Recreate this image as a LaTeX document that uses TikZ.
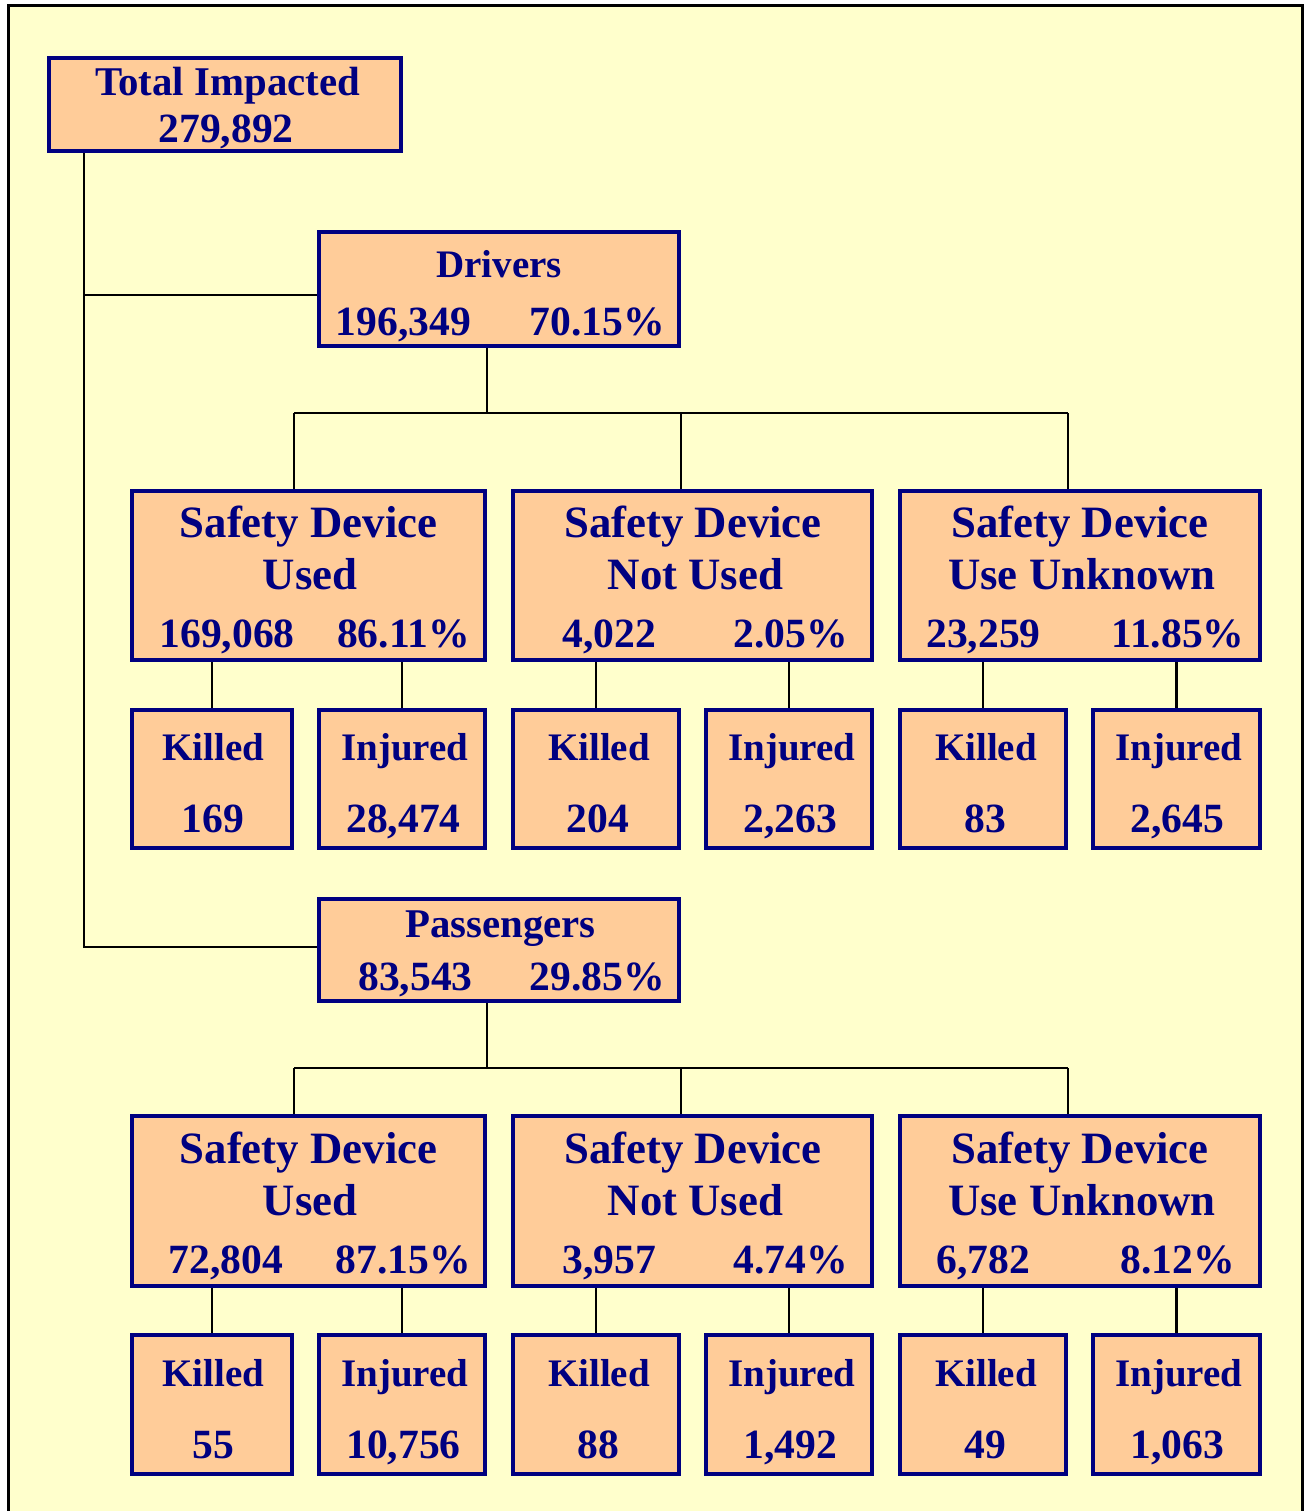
\documentclass[tikz,border=0pt]{standalone}
\usepackage{fontspec}
\setmainfont{Liberation Serif}
\definecolor{bgy}{HTML}{FFFFCC}
\definecolor{peach}{HTML}{FFCC99}
\definecolor{navyc}{HTML}{000080}
\pgfdeclarelayer{bg}
\pgfsetlayers{bg,main}
\tikzset{
  box/.style={draw=navyc, fill=peach, line width=4pt, inner sep=0pt, rectangle},
  conn/.style={draw=black, line width=2.5pt},
  txtbase/.style={text=navyc, anchor=base, inner sep=0pt},
  sdt/.style={txtbase, font=\bfseries\fontsize{44.8}{50}\selectfont},
  wdt/.style={txtbase, font=\bfseries\fontsize{39}{45}\selectfont},
  wdl/.style={txtbase, font=\bfseries\fontsize{40.8}{45}\selectfont},
  nmt/.style={txtbase, font=\bfseries\fontsize{41.6}{46}\selectfont}
}
\newcommand\mybox[5]{%
  \pgfmathsetmacro\mbW{#4-#2-4}%
  \pgfmathsetmacro\mbH{#5-#3-4}%
  \pgfmathsetmacro\mbX{(#2+#4)/2}%
  \pgfmathsetmacro\mbY{(#3+#5)/2}%
  \node[box, minimum width=\mbW pt, minimum height=\mbH pt] (#1) at (\mbX,\mbY) {};}
\begin{document}
\begin{tikzpicture}[x=1pt,y=-1pt]
\useasboundingbox (0,0) rectangle (1308,1511);
\begin{pgfonlayer}{bg}
  \fill[white] (0,0) rectangle (1308,1511);
  \fill[bgy] (8,6) rectangle (1302,1511);
  \draw[black, line width=3pt] (8,1511) -- (8,6) -- (1302,6) -- (1302,1511);
\end{pgfonlayer}
% boxes
\mybox{tot}{47}{56}{403}{153}
\mybox{drv}{317}{230}{681}{348}
\mybox{du}{130}{489}{487}{662}
\mybox{dn}{511}{489}{874}{662}
\mybox{dk}{898}{489}{1262}{662}
\mybox{dk1}{130}{708}{294}{850}
\mybox{di1}{317}{708}{487}{850}
\mybox{dk2}{511}{708}{681}{850}
\mybox{di2}{704}{708}{874}{850}
\mybox{dk3}{898}{708}{1068}{850}
\mybox{di3}{1091}{708}{1262}{850}
\mybox{pas}{317}{897}{681}{1003}
\mybox{pu}{130}{1114}{487}{1288}
\mybox{pn}{511}{1114}{874}{1288}
\mybox{pk}{898}{1114}{1262}{1288}
\mybox{pk1}{130}{1333}{294}{1476}
\mybox{pi1}{317}{1333}{487}{1476}
\mybox{pk2}{511}{1333}{681}{1476}
\mybox{pi2}{704}{1333}{874}{1476}
\mybox{pk3}{898}{1333}{1068}{1476}
\mybox{pi3}{1091}{1333}{1262}{1476}
% junction coordinates
\coordinate (jd) at (84,295);
\coordinate (jp) at (84,947);
\coordinate (dj) at (487,413);
\coordinate (dja) at (294,413);
\coordinate (djb) at (681,413);
\coordinate (djc) at (1068,413);
\coordinate (pj) at (487,1068);
\coordinate (pja) at (294,1068);
\coordinate (pjb) at (681,1068);
\coordinate (pjc) at (1068,1068);
\begin{pgfonlayer}{bg}
  \draw[conn] (tot.south -| jd) -- (jp) -- (jp -| pas.west);
  \draw[conn] (jd) -- (jd -| drv.west);
  \draw[conn] (drv.south -| dj) -- (dj);
  \draw[conn] (dja) -- (djc);
  \draw[conn] (dja) -- (dja |- du.north);
  \draw[conn] (djb) -- (djb |- dn.north);
  \draw[conn] (djc) -- (djc |- dk.north);
  \draw[conn] (du.south -| dk1) -- (dk1.north);
  \draw[conn] (du.south -| di1) -- (di1.north);
  \draw[conn] (dn.south -| dk2) -- (dk2.north);
  \draw[conn] (dn.south -| di2) -- (di2.north);
  \draw[conn] (dk.south -| dk3) -- (dk3.north);
  \draw[conn] (dk.south -| di3) -- (di3.north);
  \draw[conn] (pas.south -| pj) -- (pj);
  \draw[conn] (pja) -- (pjc);
  \draw[conn] (pja) -- (pja |- pu.north);
  \draw[conn] (pjb) -- (pjb |- pn.north);
  \draw[conn] (pjc) -- (pjc |- pk.north);
  \draw[conn] (pu.south -| pk1) -- (pk1.north);
  \draw[conn] (pu.south -| pi1) -- (pi1.north);
  \draw[conn] (pn.south -| pk2) -- (pk2.north);
  \draw[conn] (pn.south -| pi2) -- (pi2.north);
  \draw[conn] (pk.south -| pk3) -- (pk3.north);
  \draw[conn] (pk.south -| pi3) -- (pi3.north);
\end{pgfonlayer}
% texts
\node[wdl] (tTot) at (227.5,96) {Total Impacted};
\node[nmt] (tTotN) at (226,143) {279,892};
\node[wdt] (tDrv) at (499,278) {Drivers};
\node[nmt] (tDrvA) at (403.5,335) {196,349};
\node[nmt] (tDrvB) at (597,335) {70.15\%};
% driver safety device boxes
\node[sdt] (tdu1) at (308.5,537) {Safety Device};
\node[sdt] (tdu2) at (310,589) {Used};
\node[nmt] (tdu3) at (227,647) {169,068};
\node[nmt] (tdu4) at (403.5,647) {86.11\%};
\node[sdt] (tdn1) at (693,537) {Safety Device};
\node[sdt] (tdn2) at (695.5,589) {Not Used};
\node[nmt] (tdn3) at (609,647) {4,022};
\node[nmt] (tdn4) at (790.5,647) {2.05\%};
\node[sdt] (tdk1) at (1080,537) {Safety Device};
\node[sdt] (tdk2) at (1082,589) {Use Unknown};
\node[nmt] (tdk3) at (983.5,647) {23,259};
\node[nmt] (tdk4) at (1178,647) {11.85\%};
% driver killed / injured
\node[wdt] (tk1a) at (213.5,760) {Killed};
\node[nmt] (tk1b) at (213,832) {169};
\node[wdt] (ti1a) at (405,760) {Injured};
\node[nmt] (ti1b) at (403.5,832) {28,474};
\node[wdt] (tk2a) at (599,760) {Killed};
\node[nmt] (tk2b) at (598,832) {204};
\node[wdt] (ti2a) at (792,760) {Injured};
\node[nmt] (ti2b) at (790,832) {2,263};
\node[wdt] (tk3a) at (986,760) {Killed};
\node[nmt] (tk3b) at (985,832) {83};
\node[wdt] (ti3a) at (1179,760) {Injured};
\node[nmt] (ti3b) at (1177,832) {2,645};
% passengers
\node[wdl] (tPas) at (500.5,937) {Passengers};
\node[nmt] (tPasA) at (415.5,990) {83,543};
\node[nmt] (tPasB) at (597,990) {29.85\%};
\node[sdt] (tpu1) at (308.5,1163) {Safety Device};
\node[sdt] (tpu2) at (310,1215) {Used};
\node[nmt] (tpu3) at (226,1273) {72,804};
\node[nmt] (tpu4) at (403.5,1273) {87.15\%};
\node[sdt] (tpn1) at (693,1163) {Safety Device};
\node[sdt] (tpn2) at (695.5,1215) {Not Used};
\node[nmt] (tpn3) at (609,1273) {3,957};
\node[nmt] (tpn4) at (790.5,1273) {4.74\%};
\node[sdt] (tpk1) at (1080,1163) {Safety Device};
\node[sdt] (tpk2) at (1082,1215) {Use Unknown};
\node[nmt] (tpk3) at (983.5,1273) {6,782};
\node[nmt] (tpk4) at (1177.5,1273) {8.12\%};
% passenger killed / injured
\node[wdt] (uk1a) at (213.5,1386) {Killed};
\node[nmt] (uk1b) at (213,1458) {55};
\node[wdt] (ui1a) at (405,1386) {Injured};
\node[nmt] (ui1b) at (403.5,1458) {10,756};
\node[wdt] (uk2a) at (599,1386) {Killed};
\node[nmt] (uk2b) at (598,1458) {88};
\node[wdt] (ui2a) at (792,1386) {Injured};
\node[nmt] (ui2b) at (790,1458) {1,492};
\node[wdt] (uk3a) at (986,1386) {Killed};
\node[nmt] (uk3b) at (985,1458) {49};
\node[wdt] (ui3a) at (1179,1386) {Injured};
\node[nmt] (ui3b) at (1177,1458) {1,063};
\end{tikzpicture}
\end{document}
